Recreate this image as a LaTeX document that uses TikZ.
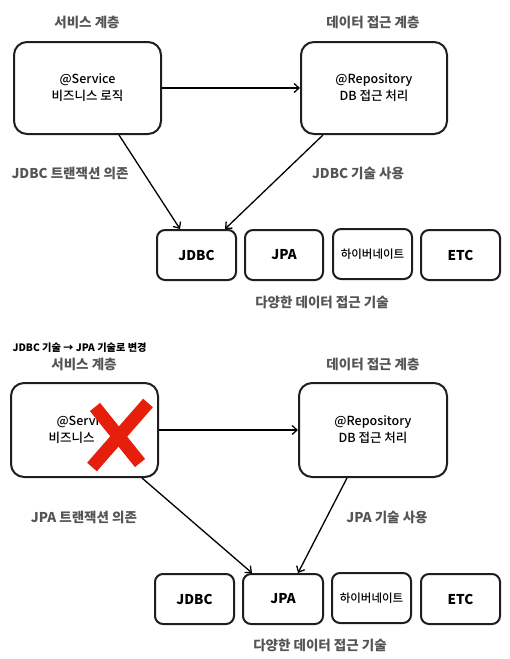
\documentclass[tikz,border=0pt]{standalone}
\usepackage{fontspec}
\setmainfont{Noto Sans CJK KR}
\newfontfamily\medfont{Noto Sans CJK KR Medium}
\usetikzlibrary{arrows.meta,calc}
\definecolor{labelgray}{HTML}{555555}
\definecolor{boxline}{HTML}{1E1E1E}
\definecolor{xred}{HTML}{E51F0C}
\tikzset{
  bigbox/.style={draw=boxline, line width=2pt, rounded corners=13pt, minimum width=147pt, minimum height=92pt, align=center, font=\fontsize{12.5}{17}\medfont, fill=white},
  techbox/.style={draw=boxline, line width=2pt, rounded corners=8pt, minimum width=79pt, minimum height=50pt, align=center, fill=white},
  techtext/.style={font=\fontsize{13.5}{16}\selectfont\bfseries},
  hibtext/.style={font=\fontsize{11.5}{14}\medfont},
  grayl/.style={text=labelgray, font=\fontsize{13.5}{16}\selectfont\bfseries},
  conn/.style={line width=1.3pt, -{Straight Barb[length=5pt,width=9pt,line width=1.3pt]}},
}
\begin{document}
\begin{tikzpicture}[x=1pt,y=-1pt]
\useasboundingbox (0,0) rectangle (509,659);
% ---------------- top diagram ----------------
\node[grayl] (lsvc1) at (87,22) {서비스 계층};
\node[grayl] (lrepo1) at (373,22) {데이터 접근 계층};
\node[bigbox] (svc1) at (87.5,88) {@Service\\비즈니스 로직};
\node[bigbox, minimum width=146pt] (repo1) at (374,88) {@Repository\\DB 접근 처리};
\node[techbox, techtext] (jdbc1) at (196.5,255) {JDBC};
\node[techbox, techtext, minimum width=78pt] (jpa1) at (284,255) {JPA};
\node[techbox, hibtext] (hib1) at (372.5,254) {하이버네이트};
\node[techbox, techtext] (etc1) at (460.5,255) {ETC};
\node[grayl] (t1a) at (70,173) {JDBC 트랜잭션 의존};
\node[grayl] (t1b) at (358,173) {JDBC 기술 사용};
\node[grayl] (t1c) at (322,302) {다양한 데이터 접근 기술};
\draw[conn] (svc1.east) -- (repo1.west);
\draw[conn] ([xshift=31.5pt]svc1.south) -- ([xshift=-16.5pt]jdbc1.north);
\draw[conn] ([xshift=-51pt]repo1.south) -- ([xshift=28.5pt]jdbc1.north);
% ---------------- bottom diagram ----------------
\node[anchor=west, font=\fontsize{10.2}{12}\selectfont\bfseries] (title) at (9,348) {JDBC 기술 → JPA 기술로 변경};
\node[grayl] (lsvc2) at (84,364) {서비스 계층};
\node[grayl] (lrepo2) at (373,364) {데이터 접근 계층};
\node[bigbox, minimum height=94pt] (svc2) at (84.5,430) {@Service\\비즈니스 로직};
\node[bigbox, minimum width=148pt, minimum height=94pt] (repo2) at (373,430) {@Repository\\DB 접근 처리};
\node[techbox, techtext] (jdbc2) at (194.5,599) {JDBC};
\node[techbox, techtext, minimum width=80pt] (jpa2) at (283,599) {JPA};
\node[techbox, hibtext] (hib2) at (371.5,598) {하이버네이트};
\node[techbox, techtext] (etc2) at (460.5,599) {ETC};
\node[grayl] (t2a) at (84,517) {JPA 트랜잭션 의존};
\node[grayl] (t2b) at (387,517) {JPA 기술 사용};
\node[grayl] (t2c) at (320,645) {다양한 데이터 접근 기술};
\draw[conn] (svc2.east) -- (repo2.west);
\draw[conn] ([xshift=57.5pt]svc2.south) -- ([xshift=-31pt]jpa2.north);
\draw[conn] ([xshift=-26pt]repo2.south) -- ([xshift=15pt]jpa2.north);
% red cross over the service box
\fill[white] (98,409) rectangle (150,447);
\draw[xred, line width=13pt] (95,407) -- (140,463);
\draw[xred, line width=13pt] (148,403) -- (92,467);
\end{tikzpicture}
\end{document}
